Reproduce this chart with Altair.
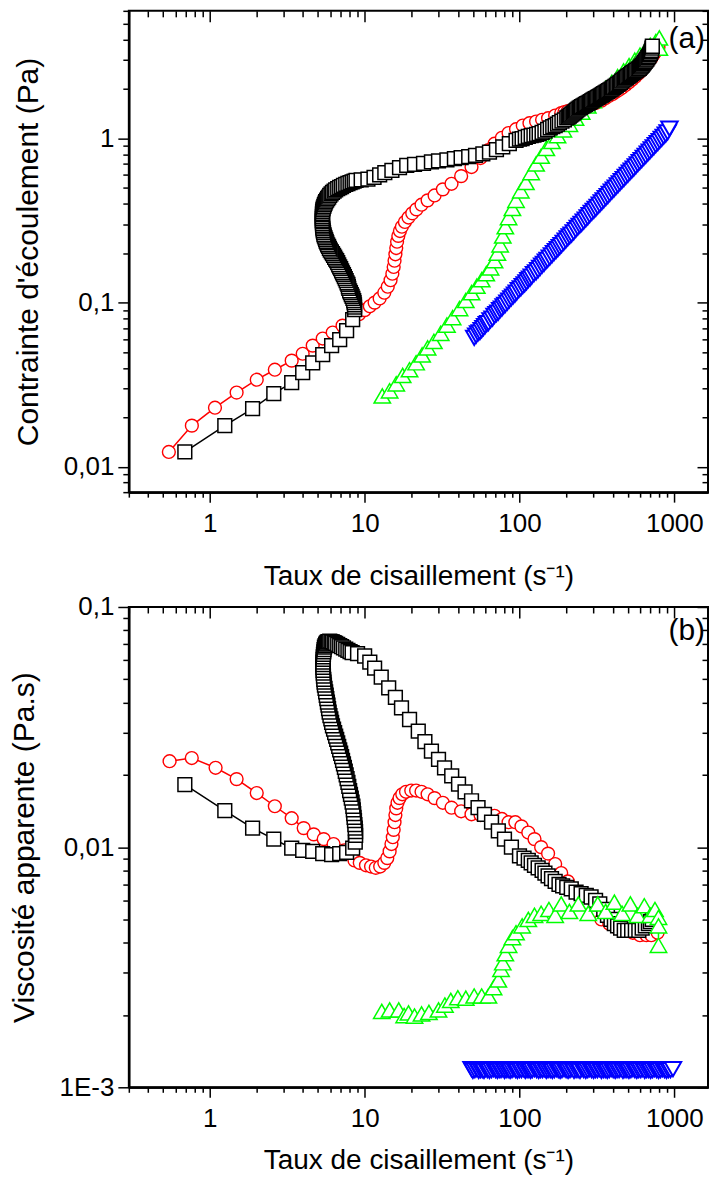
import altair as alt
import pandas as pd

FONT = "Liberation Sans"

# ---------------- Panel (a): contrainte d'écoulement ----------------
A_BLK_X = [0.69, 1.25, 1.89, 2.59, 3.38, 3.98, 4.62, 5.36, 6.12, 6.9, 7.65, 8.37,
           8.62, 8.61, 8.6, 8.55, 8.5, 8.4, 8.3, 8.2, 8.1, 8.0, 7.9, 7.85, 7.8, 7.7, 7.6, 7.5, 7.4, 7.3, 7.2, 7.1,
           7.0, 6.9, 6.8, 6.7, 6.6, 6.5, 6.4, 6.3, 6.2, 6.1, 6.0, 5.92, 5.85, 5.77, 5.7, 5.65, 5.6, 5.55, 5.5,
           5.46, 5.43, 5.4, 5.38, 5.36, 5.35, 5.34, 5.33, 5.33, 5.33, 5.33, 5.34, 5.34, 5.35, 5.37, 5.4, 5.45,
           5.5, 5.55, 5.6, 5.68, 5.77, 5.86, 5.95, 6.07, 6.2, 6.35, 6.5, 6.7, 6.9, 7.1, 7.3, 7.55, 7.8, 8.05,
           8.3, 8.55, 8.8,
           9.5, 10.5, 11.5, 12.5, 13.5, 15, 16.8, 18.7, 21, 24, 27, 30, 34, 38, 42, 47, 52, 58, 64, 71, 78, 86, 95,
           100, 104, 109, 114, 119, 124, 129, 134, 140, 146, 152, 158, 164, 170, 176, 181, 188, 195, 202, 206,
           210, 214, 218, 222, 226, 230, 234, 238.5, 243, 247.5, 252, 257, 262, 267, 272, 277, 282, 287, 292,
           297.5, 303, 308.5, 314, 320, 326, 332, 338, 344, 350, 356.5, 363, 370, 377, 384, 391, 398, 405,
           413.5, 422, 431, 440, 448.5, 457, 466, 475, 483.5, 492, 501, 510, 520, 530, 540, 550, 561, 572, 583,
           594, 603, 612, 621, 630, 639, 648, 656.5, 665, 674, 683, 691.5, 700, 706, 712, 716.5, 721]
A_BLK_Y = [0.0123, 0.0178, 0.0226, 0.0279, 0.0325, 0.0374, 0.043, 0.0482, 0.0547, 0.0595, 0.0675, 0.0787,
           0.0906, 0.094, 0.097, 0.1, 0.103, 0.106, 0.109, 0.112, 0.115, 0.118, 0.122, 0.125, 0.129, 0.132, 0.136,
           0.14, 0.144, 0.148, 0.152, 0.156, 0.161, 0.165, 0.170, 0.175, 0.180, 0.184, 0.189, 0.194, 0.199, 0.204,
           0.209, 0.214, 0.22, 0.225, 0.231, 0.236, 0.242, 0.248, 0.254, 0.26, 0.267, 0.274, 0.281, 0.288, 0.295,
           0.302, 0.31, 0.317, 0.325, 0.333, 0.342, 0.35, 0.359, 0.368, 0.377, 0.386, 0.396, 0.404, 0.413, 0.422,
           0.431, 0.44, 0.45, 0.46, 0.469, 0.478, 0.487, 0.495, 0.503, 0.51, 0.518, 0.525, 0.532, 0.538, 0.545,
           0.55, 0.556,
           0.56, 0.565, 0.58, 0.6, 0.62, 0.64, 0.665, 0.685, 0.695, 0.705, 0.72, 0.73, 0.742, 0.755, 0.766, 0.775,
           0.79, 0.805, 0.825, 0.857, 0.89, 0.93, 0.975,
           0.99, 1.0, 1.015, 1.03, 1.04, 1.05, 1.06, 1.07, 1.09, 1.11, 1.135, 1.16, 1.18, 1.2, 1.225, 1.25, 1.275,
           1.3, 1.335, 1.352, 1.37, 1.39, 1.41, 1.43, 1.45, 1.47, 1.49, 1.51, 1.53, 1.548, 1.565, 1.582, 1.6,
           1.615, 1.63, 1.645, 1.66, 1.678, 1.695, 1.712, 1.73, 1.748, 1.765, 1.782, 1.8, 1.82, 1.84, 1.86, 1.88,
           1.9, 1.92, 1.94, 1.96, 1.98, 2.0, 2.025, 2.05, 2.08, 2.11, 2.14, 2.17, 2.2, 2.235, 2.27, 2.3, 2.33,
           2.36, 2.39, 2.42, 2.452, 2.485, 2.518, 2.55, 2.582, 2.615, 2.648, 2.68, 2.72, 2.76, 2.805, 2.85, 2.9,
           2.95, 3.0, 3.05, 3.11, 3.17, 3.235, 3.3, 3.375, 3.45, 3.55, 3.65]

A_RED_X = [0.544, 0.766, 1.08, 1.49, 2.01, 2.63, 3.38, 3.98, 4.62, 5.36, 6.22, 7.2, 8.37, 9.2, 10.0, 10.8, 11.6,
           12.5, 13.4, 14.1, 14.7, 15.1, 15.4, 15.6, 15.8, 16.0, 16.2, 16.5, 16.9, 17.4, 18.2, 19.2, 20.3, 21.6,
           23.3, 25.5, 28.3, 32, 36.4, 42, 49, 56, 63, 69, 77, 85, 95, 105, 116, 128, 140, 153, 170,
           186, 195, 205, 217, 230, 245, 260, 275, 290, 313, 338, 358, 380, 400, 420, 440, 460, 485, 510, 535,
           560, 585, 610, 635, 660, 685, 710, 735, 760, 775, 790]
A_RED_Y = [0.0123, 0.0178, 0.0229, 0.0283, 0.0339, 0.039, 0.0443, 0.0488, 0.0547, 0.0604, 0.0657, 0.0724, 0.0787,
           0.085, 0.09, 0.095, 0.1, 0.106, 0.115, 0.125, 0.137, 0.15, 0.165, 0.18, 0.197, 0.215, 0.235, 0.255,
           0.273, 0.29, 0.31, 0.33, 0.35, 0.37, 0.395, 0.42, 0.45, 0.49, 0.53, 0.59, 0.67, 0.76, 0.85, 0.93, 1.01,
           1.08, 1.14, 1.2, 1.24, 1.27, 1.3, 1.33, 1.38,
           1.43, 1.45, 1.47, 1.49, 1.5, 1.53, 1.55, 1.58, 1.6, 1.65, 1.7, 1.76, 1.82, 1.87, 1.93, 1.98, 2.04,
           2.12, 2.2, 2.29, 2.38, 2.48, 2.58, 2.71, 2.85, 2.97, 3.1, 3.25, 3.4, 3.5, 3.6]

A_GRN_X = [13.0, 14.5, 16, 17.6, 19.5, 21.5, 23.5, 25.5, 28, 31, 34, 37, 41, 45, 49, 53, 57, 61, 65, 69, 72, 75,
           78, 81, 85, 90, 95, 102, 110, 119, 128, 138, 149, 162, 176, 192, 210, 230, 252, 276, 300, 330, 360,
           395, 430, 470, 510, 555, 600, 650, 700, 760, 800, 800]
A_GRN_Y = [0.027, 0.029, 0.032, 0.036, 0.039, 0.043, 0.048, 0.053, 0.058, 0.065, 0.073, 0.081, 0.092, 0.103,
           0.115, 0.126, 0.138, 0.15, 0.163, 0.18, 0.2, 0.225, 0.255, 0.29, 0.33, 0.375, 0.42, 0.48, 0.54, 0.62,
           0.7, 0.78, 0.87, 0.96, 1.04, 1.13, 1.22, 1.33, 1.45, 1.58, 1.7, 1.86, 2.02, 2.2, 2.38, 2.58, 2.78, 3.0,
           3.22, 3.45, 3.7, 3.9, 4.1, 3.55]

A_BLU_X = [51, 52.5, 54, 55.5, 57, 58.5, 60, 61.5, 63, 65,
           67, 69, 71, 73, 75, 77, 79, 81, 83.5, 86,
           88.5, 91, 93.5, 96, 99, 102, 105, 108, 111, 114,
           117, 120, 124, 128, 132, 136, 140, 144, 148, 152,
           157, 162, 167, 172, 177, 182, 187, 193, 199, 205,
           211, 217, 224, 231, 238, 245, 252, 260, 268, 276,
           284, 293, 302, 311, 320, 330, 340, 350, 361, 372,
           383, 395, 407, 419, 432, 445, 458, 472, 486, 501,
           516, 531, 547, 564, 581, 598, 616, 635, 654, 674,
           694, 715, 737, 759, 782, 805, 829, 854, 880, 905, 930]
A_BLU_Y = [0.061, 0.063, 0.065, 0.066, 0.068, 0.070, 0.072, 0.074, 0.075, 0.078,
           0.080, 0.083, 0.085, 0.087, 0.090, 0.092, 0.095, 0.097, 0.100, 0.103,
           0.106, 0.109, 0.112, 0.115, 0.119, 0.122, 0.126, 0.129, 0.133, 0.137,
           0.140, 0.144, 0.149, 0.153, 0.158, 0.163, 0.168, 0.172, 0.178, 0.182,
           0.188, 0.194, 0.200, 0.206, 0.212, 0.218, 0.224, 0.231, 0.239, 0.246,
           0.253, 0.260, 0.268, 0.277, 0.286, 0.294, 0.302, 0.312, 0.321, 0.331,
           0.341, 0.352, 0.362, 0.373, 0.384, 0.396, 0.408, 0.420, 0.433, 0.446,
           0.460, 0.474, 0.488, 0.503, 0.518, 0.534, 0.550, 0.566, 0.583, 0.601,
           0.619, 0.637, 0.656, 0.677, 0.697, 0.718, 0.739, 0.762, 0.785, 0.809,
           0.833, 0.858, 0.884, 0.911, 0.938, 0.966, 0.995, 1.025, 1.056, 1.09, 1.15]

# ---------------- Panel (b): viscosité apparente ----------------
B_BLK_X = [0.69, 1.25, 1.89, 2.59, 3.38, 3.98, 4.62, 5.36, 6.12, 6.9, 7.65, 8.37, 8.7,
           8.75, 8.74, 8.7, 8.65, 8.6, 8.55, 8.5, 8.45, 8.4, 8.3, 8.2, 8.1, 8.0, 7.9, 7.8, 7.7, 7.6, 7.5, 7.4,
           7.3, 7.2, 7.1, 7.0, 6.9, 6.8, 6.7, 6.6, 6.5, 6.4, 6.3, 6.2, 6.12, 6.05, 5.97, 5.9, 5.85, 5.8, 5.75,
           5.7, 5.65, 5.6, 5.55, 5.5, 5.47, 5.45, 5.42, 5.4, 5.39, 5.38, 5.38, 5.38, 5.39, 5.4, 5.42, 5.45, 5.47,
           5.5, 5.55, 5.6, 5.67, 5.75, 5.85, 5.95, 6.07, 6.2, 6.35, 6.5, 6.7, 6.9, 7.1, 7.3, 7.55, 7.8, 8.05, 8.3,
           9.0, 10.0, 10.8, 11.6, 12.8, 14.3, 15.8, 17.3, 19.5, 22.2, 24.5, 27, 30, 32.8, 36.5, 40.4, 44.5, 49,
           54, 59.4, 66, 73, 80, 88.7,
           100, 107, 114, 119, 125, 132, 140, 146, 153, 161, 170, 180, 190, 202, 216, 232, 250, 270, 290, 310,
           330, 350, 370, 390, 410, 430, 450, 475, 500, 530, 560, 590, 620, 650, 680, 700, 720]
B_BLK_Y = [0.0182, 0.0142, 0.012, 0.0108, 0.0099, 0.0097, 0.0096, 0.0094, 0.0093, 0.0094, 0.0095, 0.0099, 0.0105,
           0.0112, 0.0116, 0.012, 0.0124, 0.0129, 0.0133, 0.0138, 0.0143, 0.0148, 0.0154, 0.016, 0.0166, 0.0172,
           0.0179, 0.0186, 0.0193, 0.02, 0.0207, 0.0215, 0.0222, 0.023, 0.0238, 0.0246, 0.0254, 0.0263, 0.0272,
           0.0281, 0.029, 0.03, 0.031, 0.032, 0.0331, 0.0342, 0.0353, 0.0365, 0.0377, 0.039, 0.0402, 0.0415,
           0.0429, 0.0443, 0.0458, 0.0473, 0.0486, 0.05, 0.0515, 0.053, 0.0545, 0.056, 0.0575, 0.059, 0.0605,
           0.062, 0.0635, 0.065, 0.0665, 0.068, 0.069, 0.07, 0.0708, 0.0715, 0.0718, 0.072, 0.0718, 0.0715,
           0.071, 0.0705, 0.0698, 0.069, 0.0683, 0.0675, 0.0668, 0.066, 0.0652, 0.0645,
           0.064, 0.0625, 0.059, 0.0557, 0.051, 0.046, 0.042, 0.038, 0.034, 0.0304, 0.0275, 0.0251, 0.0232,
           0.0214, 0.0198, 0.0183, 0.017, 0.0156, 0.0146, 0.0137, 0.0127, 0.0117, 0.0108, 0.01,
           0.0092, 0.009, 0.0088, 0.0086, 0.0084, 0.0082, 0.008, 0.0078, 0.0076, 0.0074, 0.0072, 0.007, 0.0069,
           0.0068, 0.0067, 0.0065, 0.0064, 0.0063, 0.0062, 0.006, 0.0058, 0.0055, 0.0052, 0.005, 0.0048, 0.0047,
           0.0046, 0.0045, 0.0045, 0.0045, 0.0045, 0.0045, 0.0046, 0.0047, 0.0048, 0.0049, 0.005]

B_RED_X = [0.55, 0.765, 1.09, 1.49, 2.01, 2.63, 3.38, 4.04, 4.69, 5.44, 6.3, 7.4, 8.6, 9.3, 10.2, 11.0, 11.8,
           12.6, 13.4, 14.0, 14.5, 14.9, 15.2, 15.4, 15.6, 15.8, 16.0, 16.3, 16.8, 17.5, 18.5, 20, 21.5, 23.3,
           25.5, 28.3, 32, 36.4, 42, 49, 56, 63, 69, 77, 85, 94, 103, 114, 125, 138, 153, 170, 186, 205, 230,
           260, 300, 338, 380, 430, 480, 540, 600, 660, 710, 780]
B_RED_Y = [0.0228, 0.0235, 0.0214, 0.0192, 0.0168, 0.0148, 0.0132, 0.012, 0.0113, 0.0108, 0.0103, 0.0097,
           0.0088, 0.0086, 0.0084, 0.0083, 0.0082, 0.0083, 0.0086, 0.009, 0.0096, 0.0103, 0.011, 0.0118, 0.0127,
           0.0136, 0.0145, 0.0153, 0.016, 0.0166, 0.017, 0.0172, 0.0172, 0.017, 0.0166, 0.016, 0.0153, 0.0146,
           0.0141, 0.0137, 0.0136, 0.0136, 0.0135, 0.0131, 0.0127, 0.0127, 0.0122, 0.0115, 0.0108, 0.01, 0.0094,
           0.0085, 0.0078, 0.0072, 0.0065, 0.0058, 0.0053, 0.005, 0.0048, 0.0046, 0.0045, 0.0044, 0.0043, 0.0043,
           0.0043, 0.0044]

B_GRN_X = [12.9, 14.5, 16.6, 18, 19.2, 21, 23.3, 26, 30, 33, 36, 40, 45, 51, 57, 63, 68, 73, 76, 78, 81, 85,
           90, 95, 104, 114, 125, 138, 155, 170, 186, 210, 240, 278, 320, 360, 410, 460, 520, 580, 640, 700, 750,
           790, 790, 790]
B_GRN_Y = [0.00207, 0.0021, 0.0021, 0.00199, 0.00204, 0.00198, 0.00202, 0.00205, 0.0021, 0.0022, 0.0023,
           0.00236, 0.00235, 0.0024, 0.0024, 0.0024, 0.0026, 0.0028, 0.0031, 0.0033, 0.0036, 0.0039, 0.0042,
           0.0044, 0.0047, 0.005, 0.0052, 0.0053, 0.0055, 0.0052, 0.0058, 0.0054, 0.0058, 0.0053, 0.0058, 0.0054,
           0.0059, 0.0053, 0.0058, 0.0052, 0.0057, 0.0052, 0.0055, 0.0051, 0.0047, 0.0039]

B_BLU_X = [49, 50, 51.5, 53, 54.5, 56, 57.5, 59, 60.5, 62,
           64, 66, 68, 70, 72, 74, 76, 78, 80, 82,
           84.5, 87, 89.5, 92, 94.5, 97, 100, 103, 106, 109,
           112, 115, 118, 121, 125, 129, 133, 137, 141, 145,
           149, 153, 158, 163, 168, 173, 178, 183, 188, 194,
           200, 206, 212, 218, 225, 232, 239, 246, 253, 260,
           268, 276, 284, 292, 301, 310, 319, 328, 338, 348,
           358, 369, 380, 391, 403, 415, 427, 440, 453, 466,
           480, 494, 509, 524, 540, 556, 572, 589, 607, 625,
           644, 663, 683, 703, 724, 746, 768, 791, 815, 839,
           864, 890, 917, 945, 980]
B_BLU_Y = [0.00119, 0.00117, 0.00118, 0.00119, 0.00117, 0.00118, 0.00118, 0.00117, 0.00119, 0.00118,
           0.00117, 0.00118, 0.00119, 0.00118, 0.00117, 0.00118, 0.00118, 0.00119, 0.00117, 0.00118,
           0.00118, 0.00117, 0.00118, 0.00119, 0.00118, 0.00117, 0.00118, 0.00118, 0.00119, 0.00117,
           0.00118, 0.00118, 0.00117, 0.00118, 0.00119, 0.00118, 0.00117, 0.00118, 0.00118, 0.00119,
           0.00117, 0.00118, 0.00118, 0.00117, 0.00118, 0.00119, 0.00118, 0.00117, 0.00118, 0.00119,
           0.00118, 0.00117, 0.00118, 0.00119, 0.00117, 0.00118, 0.00118, 0.00117, 0.00119, 0.00118,
           0.00117, 0.00118, 0.00119, 0.00118, 0.00117, 0.00118, 0.00118, 0.00119, 0.00117, 0.00118,
           0.00118, 0.00117, 0.00118, 0.00119, 0.00118, 0.00117, 0.00118, 0.00118, 0.00119, 0.00117,
           0.00118, 0.00118, 0.00117, 0.00118, 0.00119, 0.00118, 0.00117, 0.00118, 0.00118, 0.00119,
           0.00117, 0.00118, 0.00118, 0.00117, 0.00118, 0.00119, 0.00118, 0.00117, 0.00118, 0.00119,
           0.00118, 0.00117, 0.00118, 0.00118, 0.00119]

# ---------------- axes ----------------
X_MAJOR = [1, 10, 100, 1000]
X_MINOR = [0.3, 0.4, 0.5, 0.6, 0.7, 0.8, 0.9, 2, 3, 4, 5, 6, 7, 8, 9, 20, 30, 40, 50, 60, 70, 80, 90,
           200, 300, 400, 500, 600, 700, 800, 900]
YA_MAJOR = [0.01, 0.1, 1]
YA_MINOR = [0.007, 0.008, 0.009, 0.02, 0.03, 0.04, 0.05, 0.06, 0.07, 0.08, 0.09, 0.2, 0.3, 0.4,
            0.5, 0.6, 0.7, 0.8, 0.9, 2, 3, 4, 5, 6]
YB_MAJOR = [0.001, 0.01, 0.1]
YB_MINOR = [0.002, 0.003, 0.004, 0.005, 0.006, 0.007, 0.008, 0.009, 0.02, 0.03, 0.04, 0.05, 0.06,
            0.07, 0.08, 0.09]
YA_LABELS = "datum.value == 0.01 ? '0,01' : datum.value == 0.1 ? '0,1' : '1'"
YB_LABELS = "datum.value == 0.001 ? '1E-3' : datum.value == 0.01 ? '0,01' : '0,1'"

X_TITLE = "Taux de cisaillement (s\u207b\u00b9)"
YA_TITLE = "Contrainte d'écoulement (Pa)"
YB_TITLE = "Viscosité apparente (Pa.s)"

X_SCALE = alt.Scale(type="log", domain=[0.3, 1650], nice=False)
YA_SCALE = alt.Scale(type="log", domain=[0.007, 6], nice=False)
YB_SCALE = alt.Scale(type="log", domain=[0.001, 0.1], nice=False)

STYLE = {
    "noir": ("#000000", "square", 190, 1.5),
    "rouge": ("#FF0000", "circle", 165, 1.4),
    "vert": ("#00FF00", "triangle-up", 270, 1.5),
    "bleu": ("#0000FF", "triangle-down", 270, 2.0),
}

MAJ_X, MIN_X, MAJ_Y, MIN_Y = 10, 5, 11, 6
W = 580


def make_df(series):
    rows = []
    for name, (xs, ys) in series.items():
        for i, (xv, yv) in enumerate(zip(xs, ys)):
            rows.append({"x": xv, "y": yv, "s": name, "i": i})
    return pd.DataFrame(rows)


def axis_layer(df, yscale, xaxis, yaxis):
    return alt.Chart(df).mark_point(opacity=0).encode(
        x=alt.X("x:Q", scale=X_SCALE, axis=xaxis),
        y=alt.Y("y:Q", scale=yscale, axis=yaxis),
    )


def panel(series, yscale, ymajor, yminor, ylabels, ytitle, tag, tag_y, order, H, xpad):
    df = make_df(series)
    layers = [
        axis_layer(df, yscale,
                   alt.Axis(orient="bottom", values=X_MAJOR, format="d", title=X_TITLE,
                            tickSize=MAJ_X, labelPadding=8, titlePadding=xpad),
                   alt.Axis(orient="left", values=ymajor, labelExpr=ylabels, title=ytitle,
                            tickSize=MAJ_Y, labelPadding=4, titlePadding=20, titleFontSize=30)),
        axis_layer(df, yscale,
                   alt.Axis(orient="bottom", values=X_MINOR, labels=False, title=None, tickSize=MIN_X),
                   alt.Axis(orient="left", values=yminor, labels=False, title=None, tickSize=MIN_Y)),
        axis_layer(df, yscale,
                   alt.Axis(orient="top", values=X_MAJOR, labels=False, title=None, tickSize=MAJ_Y,
                            offset=-MAJ_Y, domain=False),
                   alt.Axis(orient="right", values=ymajor, labels=False, title=None, tickSize=MAJ_Y,
                            offset=-MAJ_Y, domain=False)),
        axis_layer(df, yscale,
                   alt.Axis(orient="top", values=X_MINOR, labels=False, title=None, tickSize=MIN_Y,
                            offset=-MIN_Y, domain=False),
                   alt.Axis(orient="right", values=yminor, labels=False, title=None, tickSize=MIN_Y,
                            offset=-MIN_Y, domain=False)),
    ]
    for name in order:
        color, shape, size, sw = STYLE[name]
        sub = df[df.s == name]
        enc = dict(x=alt.X("x:Q", scale=X_SCALE, axis=None), y=alt.Y("y:Q", scale=yscale, axis=None))
        layers.append(alt.Chart(sub).mark_line(color=color, strokeWidth=1.5).encode(
            order=alt.Order("i:Q"), **enc))
        layers.append(alt.Chart(sub).mark_point(
            shape=shape, size=size, fill="white", stroke=color, strokeWidth=sw,
            opacity=1, fillOpacity=1).encode(**enc))
    tag_layer = alt.Chart(pd.DataFrame({"t": [tag]})).mark_text(
        font=FONT, fontSize=30, align="right", baseline="alphabetic", color="black"
    ).encode(text="t:N", x=alt.value(W - 3), y=alt.value(tag_y))
    layers.append(tag_layer)
    return alt.layer(*layers).resolve_axis(x="independent", y="independent").properties(width=W, height=H)


pa = panel({"rouge": (A_RED_X, A_RED_Y), "vert": (A_GRN_X, A_GRN_Y), "bleu": (A_BLU_X, A_BLU_Y),
            "noir": (A_BLK_X, A_BLK_Y)},
           YA_SCALE, YA_MAJOR, YA_MINOR, YA_LABELS, YA_TITLE, "(a)", 37, ["rouge", "vert", "bleu", "noir"],
           482, 26)
pb = panel({"rouge": (B_RED_X, B_RED_Y), "noir": (B_BLK_X, B_BLK_Y), "vert": (B_GRN_X, B_GRN_Y),
            "bleu": (B_BLU_X, B_BLU_Y)},
           YB_SCALE, YB_MAJOR, YB_MINOR, YB_LABELS, YB_TITLE, "(b)", 33, ["rouge", "noir", "vert", "bleu"],
           481, 15)

chart = alt.concat(pa, pb, columns=1, spacing=2,
                   align={"row": "none", "column": "all"}).properties(
    padding={"left": 0, "top": 0, "right": 0, "bottom": 0}
).configure_view(stroke="black", strokeWidth=2).configure_axis(
    labelFont=FONT, titleFont=FONT, labelFontSize=26, titleFontSize=28, titleFontWeight="normal",
    labelColor="black", titleColor="black", domainColor="black", tickColor="black",
    domainWidth=2, tickWidth=1.5, grid=False, labelOverlap=False, labelFlush=False, labelBound=False
)

chart.save("out.html", embed_options={"renderer": "svg", "actions": False})
